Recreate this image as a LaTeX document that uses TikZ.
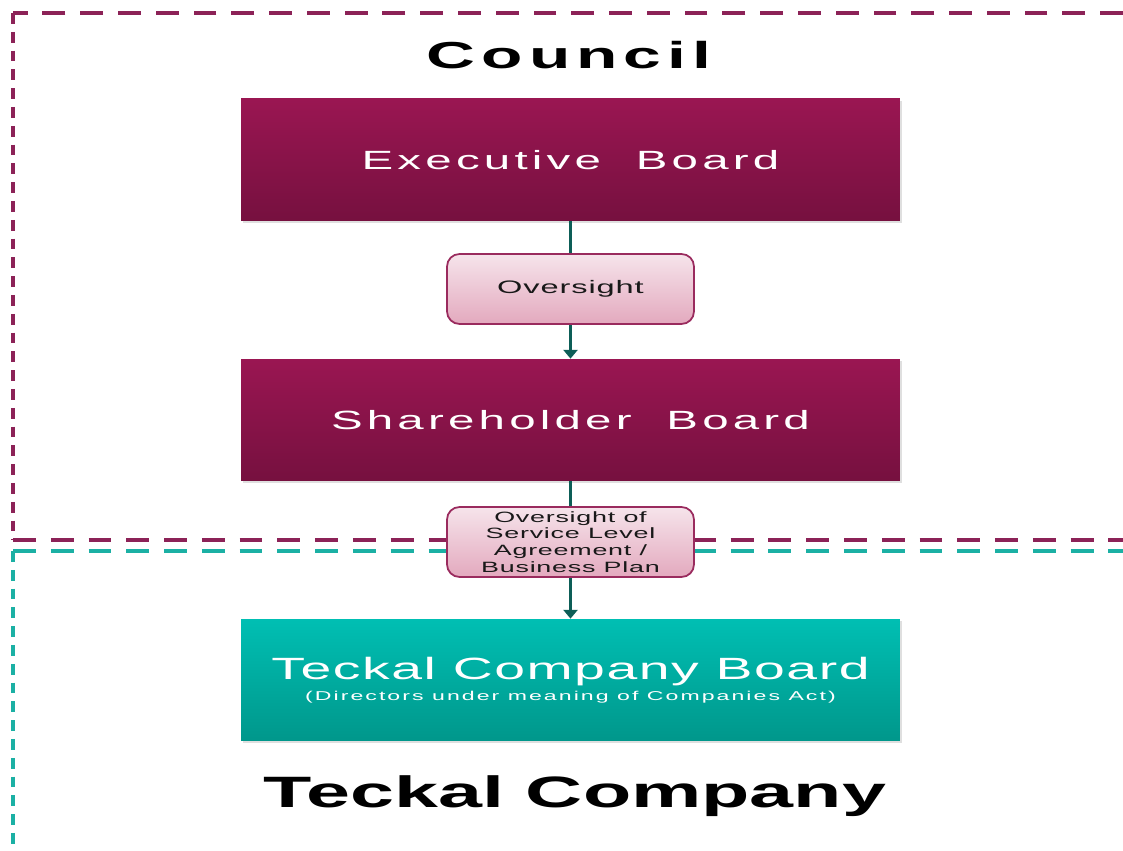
\documentclass[tikz,border=0pt]{standalone}
\usepackage{fontspec}
\setmainfont{Liberation Sans}[FakeStretch=1.8]
\newfontfamily\boardfont{Liberation Sans}[FakeStretch=1.8,LetterSpace=16]
\newfontfamily\tagfont{Liberation Sans}[FakeStretch=1.8,LetterSpace=5]
\usetikzlibrary{arrows.meta,shadows}

\definecolor{councilred}{HTML}{9A1652}
\definecolor{councildark}{HTML}{76103F}
\definecolor{councilline}{HTML}{8C2257}
\definecolor{teckaltop}{HTML}{00BFB3}
\definecolor{teckalbot}{HTML}{00978B}
\definecolor{teckalline}{HTML}{1BB0A4}
\definecolor{linkcol}{HTML}{0D5E57}
\definecolor{tagtop}{HTML}{F6E4EB}
\definecolor{tagbot}{HTML}{E3A9BE}
\definecolor{tagline}{HTML}{9A2B5E}

\tikzset{
  board/.style={minimum width=13.18cm, minimum height=2.44cm, text=white,
    inner sep=0pt, align=center,
    drop shadow={opacity=0.25, shadow xshift=1.2pt, shadow yshift=-1.2pt}},
  councilboard/.style={board, top color=councilred, bottom color=councildark,
    font=\boardfont\fontsize{15}{18}\selectfont},
  teckalboard/.style={board, top color=teckaltop, bottom color=teckalbot,
    font=\tagfont\fontsize{17.5}{12}\selectfont},
  tag/.style={draw=tagline, line width=1pt, rounded corners=0.25cm,
    top color=tagtop, bottom color=tagbot, text=black!90,
    minimum width=4.94cm, minimum height=1.4cm, inner sep=0pt, align=center,
    font=\tagfont\fontsize{10.3}{9.5}\selectfont},
  link/.style={draw=linkcol, line width=2.2pt, -{Triangle[width=8pt,length=5pt]}},
  hdash/.style={line width=2pt, dash pattern=on 13pt off 8.5pt},
  vdash/.style={line width=2pt, dash pattern=on 6.2pt off 4.5pt}
}

\begin{document}
\begin{tikzpicture}[x=0.02cm, y=0.02cm]
\useasboundingbox (0,0) rectangle (1123,851);
\clip (0,0) rectangle (1123,851);

% council area (top) and company area (bottom)
\draw[councilline, hdash] (1123,838) -- (13,838);
\draw[councilline, vdash] (13,838) -- (13,311);
\draw[councilline, hdash] (13,311) -- (1123,311);
\draw[teckalline, hdash] (13,300) -- (1123,300);
\draw[teckalline, vdash] (13,300) -- (13,0);

\node[font=\boardfont\bfseries\fontsize{21.4}{26}\selectfont, anchor=base] (council) at (569,782) {Council};
\node[font=\bfseries\fontsize{25}{30}\selectfont, anchor=base] (company) at (575,43) {Teckal Company};

% boards
\node[councilboard] (exec) at (570.5,691) {Executive\ \ Board};
\node[councilboard] (share) at (570.5,431) {Shareholder\ \ Board};
\node[teckalboard] (teckal) at (570.5,171) {Teckal Company Board\\
  \boardfont\fontsize{7.3}{12}\selectfont (Directors under meaning of Companies Act)};

\draw[link] (exec) -- (share);
\draw[link] (share) -- (teckal);

% labels sitting on the links
\node[tag] (watch) at (570.5,562) {Oversight};
\node[tag, font=\tagfont\fontsize{8.5}{9.5}\selectfont] (plan) at (570.5,309) {Oversight of\\Service Level\\Agreement /\\Business Plan};
\end{tikzpicture}
\end{document}
